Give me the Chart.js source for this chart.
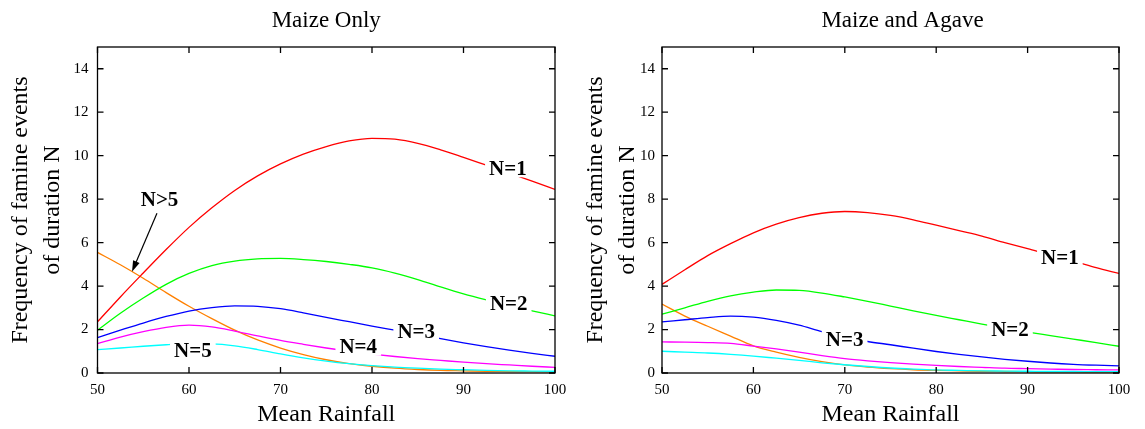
<!DOCTYPE html>
<html>
<head>
<meta charset="utf-8">
<script src="https://cdn.jsdelivr.net/npm/chart.js@4.4.1/dist/chart.umd.min.js"></script>
<style>
  html, body { margin: 0; padding: 0; background: #fff; }
  #wrap { position: relative; width: 1145px; height: 429px; }
  canvas { position: absolute; top: 0; }
  #maizeChart { left: 0; }
  #agaveChart { left: 575px; }
</style>
</head>
<body>
<div id="wrap">
  <canvas id="maizeChart" width="575" height="429"></canvas>
  <canvas id="agaveChart" width="570" height="429"></canvas>
</div>
<script>
// Mean rainfall (x) shared by every curve
const rainfall = [50, 52.5, 55, 57.5, 60, 62.5, 65, 67.5, 70, 72.5, 75, 77.5, 80, 82.5, 85, 87.5, 90, 92.5, 95, 97.5, 100];

// Maize only
const maizeN1 = [2.35, 3.5, 4.6, 5.68, 6.7, 7.6, 8.4, 9.07, 9.62, 10.07, 10.42, 10.68, 10.8, 10.76, 10.57, 10.27, 9.92, 9.56, 9.2, 8.83, 8.45];
const maizeN2 = [1.97, 2.75, 3.45, 4.08, 4.58, 4.94, 5.15, 5.25, 5.27, 5.22, 5.13, 5.0, 4.84, 4.6, 4.3, 3.96, 3.64, 3.36, 3.1, 2.86, 2.63];
const maizeN3 = [1.63, 1.97, 2.3, 2.6, 2.85, 3.01, 3.09, 3.07, 2.96, 2.77, 2.56, 2.36, 2.16, 1.97, 1.78, 1.58, 1.39, 1.21, 1.05, 0.9, 0.77];
const maizeN4 = [1.35, 1.65, 1.9, 2.1, 2.2, 2.12, 1.93, 1.71, 1.5, 1.32, 1.15, 1.0, 0.87, 0.76, 0.66, 0.58, 0.5, 0.43, 0.37, 0.31, 0.26];
const maizeN5 = [1.08, 1.15, 1.23, 1.3, 1.35, 1.34, 1.25, 1.08, 0.88, 0.7, 0.55, 0.43, 0.34, 0.27, 0.22, 0.18, 0.15, 0.12, 0.1, 0.09, 0.08];
const maizeN6 = [5.55, 4.98, 4.36, 3.7, 3.07, 2.5, 1.97, 1.52, 1.15, 0.85, 0.61, 0.43, 0.31, 0.22, 0.16, 0.12, 0.1, 0.08, 0.07, 0.06, 0.05];

// Maize and agave
const agaveN1 = [4.08, 4.75, 5.4, 5.95, 6.45, 6.85, 7.15, 7.35, 7.43, 7.38, 7.25, 7.05, 6.8, 6.55, 6.3, 6.0, 5.72, 5.42, 5.15, 4.85, 4.58];
const agaveN2 = [2.71, 3.0, 3.3, 3.55, 3.72, 3.82, 3.8, 3.68, 3.5, 3.3, 3.08, 2.86, 2.65, 2.45, 2.25, 2.06, 1.88, 1.72, 1.56, 1.4, 1.23];
const agaveN3 = [2.35, 2.45, 2.55, 2.62, 2.57, 2.42, 2.2, 1.9, 1.65, 1.45, 1.3, 1.14, 0.99, 0.86, 0.74, 0.63, 0.54, 0.46, 0.4, 0.36, 0.33];
const agaveN4 = [1.43, 1.42, 1.4, 1.36, 1.24, 1.11, 0.96, 0.8, 0.66, 0.56, 0.48, 0.41, 0.35, 0.3, 0.26, 0.22, 0.2, 0.18, 0.16, 0.15, 0.14];
const agaveN5 = [1.0, 0.96, 0.92, 0.86, 0.78, 0.68, 0.58, 0.47, 0.38, 0.3, 0.23, 0.18, 0.14, 0.12, 0.1, 0.09, 0.08, 0.07, 0.07, 0.06, 0.06];
const agaveN6 = [3.17, 2.62, 2.15, 1.7, 1.25, 0.96, 0.72, 0.52, 0.37, 0.27, 0.2, 0.15, 0.12, 0.1, 0.08, 0.07, 0.06, 0.05, 0.05, 0.04, 0.04];

const seriesNames = ['N=1', 'N=2', 'N=3', 'N=4', 'N=5', 'N>5'];
const seriesColors = ['#ff0000', '#00ff00', '#0000ff', '#ff00ff', '#00ffff', '#ff8000'];

const FONT = "'Liberation Serif', 'Times New Roman', serif";

// gnuplot style box with inward ticks on all four sides
const framePlugin = {
    id: 'gnuFrame',
    afterDatasetsDraw(chart) {
        const { ctx, chartArea: a, scales: { x, y } } = chart;
        const tl = 6;
        ctx.save();
        ctx.strokeStyle = '#000';
        ctx.lineWidth = 1.3;
        ctx.beginPath();
        x.ticks.forEach(t => {
            const px = x.getPixelForValue(t.value);
            ctx.moveTo(px, a.bottom); ctx.lineTo(px, a.bottom - tl);
            ctx.moveTo(px, a.top); ctx.lineTo(px, a.top + tl);
        });
        y.ticks.forEach(t => {
            const py = y.getPixelForValue(t.value);
            ctx.moveTo(a.left, py); ctx.lineTo(a.left + tl, py);
            ctx.moveTo(a.right, py); ctx.lineTo(a.right - tl, py);
        });
        ctx.stroke();
        ctx.strokeRect(a.left, a.top, a.right - a.left, a.bottom - a.top);
        ctx.restore();
    }
};

// panel title, curve labels (with a gap cut in the lines) and the N>5 arrow
const labelPlugin = {
    id: 'curveLabels',
    afterDatasetsDraw(chart, args, opts) {
        const { ctx, chartArea: a, scales: { x, y } } = chart;
        ctx.save();
        ctx.textAlign = 'center';
        ctx.textBaseline = 'middle';
        ctx.fillStyle = '#000';
        ctx.font = `23px ${FONT}`;
        ctx.fillText(opts.title, (a.left + a.right) / 2 + (opts.titleShift || 0), 21);

        ctx.font = `bold 21px ${FONT}`;
        opts.labels.forEach(l => {
            const px = x.getPixelForValue(l.x), py = y.getPixelForValue(l.y);
            const w = ctx.measureText(l.text).width;
            ctx.fillStyle = '#fff';
            ctx.fillRect(px - w / 2 - 4, py - 9, w + 8, 18);
            ctx.fillStyle = '#000';
            ctx.fillText(l.text, px, py + 1);
        });

        if (opts.arrow) {
            const x0 = x.getPixelForValue(opts.arrow.from[0]), y0 = y.getPixelForValue(opts.arrow.from[1]);
            const x1 = x.getPixelForValue(opts.arrow.to[0]), y1 = y.getPixelForValue(opts.arrow.to[1]);
            const ang = Math.atan2(y1 - y0, x1 - x0);
            ctx.strokeStyle = '#000';
            ctx.lineWidth = 1.2;
            ctx.beginPath();
            ctx.moveTo(x0, y0);
            ctx.lineTo(x1 - Math.cos(ang) * 6, y1 - Math.sin(ang) * 6);
            ctx.stroke();
            ctx.beginPath();
            ctx.moveTo(x1, y1);
            ctx.lineTo(x1 - 11 * Math.cos(ang) + 3.5 * Math.sin(ang), y1 - 11 * Math.sin(ang) - 3.5 * Math.cos(ang));
            ctx.lineTo(x1 - 11 * Math.cos(ang) - 3.5 * Math.sin(ang), y1 - 11 * Math.sin(ang) + 3.5 * Math.cos(ang));
            ctx.closePath();
            ctx.fill();
        }
        ctx.restore();
    }
};

function makeChart(canvasId, series, axisW, padRight, yTickPad, annot) {
    const datasets = series.map((vals, i) => ({
        label: seriesNames[i],
        data: rainfall.map((r, j) => ({ x: r, y: vals[j] })),
        borderColor: seriesColors[i],
        borderWidth: 1.3,
        pointRadius: 0,
        fill: false,
        cubicInterpolationMode: 'monotone'
    }));

    return new Chart(document.getElementById(canvasId), {
        type: 'line',
        data: { datasets },
        options: {
            responsive: false,
            animation: false,
            layout: { padding: { top: 47, right: padRight, left: 0, bottom: 0 } },
            plugins: {
                legend: { display: false },
                tooltip: { enabled: false },
                curveLabels: annot
            },
            scales: {
                x: {
                    type: 'linear', min: 50, max: 100,
                    grid: { display: false, drawTicks: false },
                    border: { display: false },
                    ticks: { stepSize: 10, padding: 8, color: '#000', maxRotation: 0, autoSkip: false, font: { family: FONT, size: 15 } },
                    title: { display: true, text: 'Mean Rainfall', color: '#000', padding: { top: 0, bottom: 0 }, font: { family: FONT, size: 24 } },
                    afterFit: s => { s.height = 56; }
                },
                y: {
                    min: 0, max: 15,
                    grid: { display: false, drawTicks: false },
                    border: { display: false },
                    ticks: { stepSize: 2, includeBounds: false, padding: yTickPad, color: '#000', font: { family: FONT, size: 15 } },
                    title: {
                        display: true,
                        text: ['Frequency of famine events', 'of duration N'],
                        color: '#000',
                        padding: { top: 4.5, bottom: 0 },
                        font: { family: FONT, size: 24, lineHeight: '32px' }
                    },
                    afterFit: s => { s.width = axisW; }
                }
            }
        },
        plugins: [labelPlugin, framePlugin]
    });
}

makeChart('maizeChart', [maizeN1, maizeN2, maizeN3, maizeN4, maizeN5, maizeN6], 97.5, 20, 9, {
    title: 'Maize Only',
    titleShift: 0,
    labels: [
        { text: 'N=1', x: 94.85, y: 9.42 },
        { text: 'N=2', x: 94.94, y: 3.21 },
        { text: 'N=3', x: 84.83, y: 1.9 },
        { text: 'N=4', x: 78.5, y: 1.21 },
        { text: 'N=5', x: 60.42, y: 1.01 },
        { text: 'N>5', x: 56.78, y: 7.96 }
    ],
    arrow: { from: [56.5, 7.35], to: [53.77, 4.66] }
});

makeChart('agaveChart', [agaveN1, agaveN2, agaveN3, agaveN4, agaveN5, agaveN6], 87, 26, 7, {
    title: 'Maize and Agave',
    titleShift: 12,
    labels: [
        { text: 'N=1', x: 93.53, y: 5.31 },
        { text: 'N=2', x: 88.07, y: 2.01 },
        { text: 'N=3', x: 69.98, y: 1.56 }
    ]
});
</script>
</body>
</html>
